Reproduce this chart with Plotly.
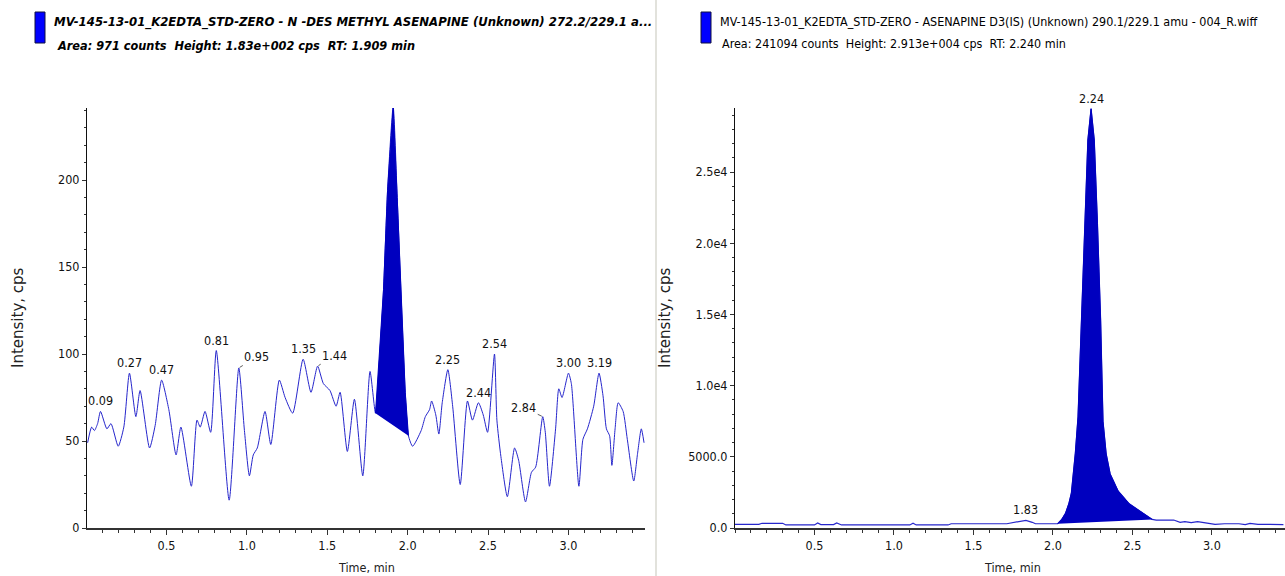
import plotly.graph_objects as go

# ---------------- data ----------------
# N-desmethyl asenapine trace (272.2/229.1), time in min, intensity in cps
left_time = [
    0.01, 0.035, 0.052, 0.072, 0.09, 0.13, 0.155, 0.20, 0.235, 0.27, 0.31, 0.336,
    0.395, 0.43, 0.47, 0.515, 0.56, 0.59, 0.655, 0.69, 0.71, 0.74, 0.775, 0.81,
    0.89, 0.95, 0.985, 1.016, 1.04, 1.065, 1.113, 1.149, 1.202, 1.238, 1.285, 1.35,
    1.399, 1.44, 1.476, 1.517, 1.555, 1.58, 1.625, 1.669, 1.721, 1.766,
    1.80, 1.83, 1.85, 1.875, 1.91, 1.935, 1.96, 1.985, 2.005,
    2.031, 2.084, 2.11, 2.136, 2.149, 2.175, 2.194, 2.215, 2.25, 2.28, 2.327, 2.372,
    2.403, 2.44, 2.47, 2.497, 2.54, 2.555, 2.58, 2.62, 2.665, 2.69, 2.733, 2.77,
    2.796, 2.84, 2.856, 2.882, 2.92, 2.94, 2.96, 3.00, 3.018, 3.065, 3.09, 3.118,
    3.157, 3.19, 3.215, 3.236, 3.256, 3.27, 3.29, 3.309, 3.34, 3.366, 3.406, 3.43,
    3.453, 3.47,
]
left_intensity = [
    49, 58, 56, 60, 67, 57, 60, 47, 58, 89, 64, 79,
    46, 59, 85, 68, 42, 58, 24, 62, 58, 67, 55, 102,
    16, 92, 56, 30, 42, 46, 67, 48, 85, 75, 66, 97,
    78, 93, 83, 79, 70, 78, 44, 74, 30, 90,
    66, 105, 137, 194, 242, 190, 132, 78, 53,
    47, 56, 64, 68, 73, 65, 54, 72, 91, 70, 25, 73,
    62, 72, 65, 55, 100, 62, 41, 18, 46, 39, 15, 32,
    35, 64, 55, 24, 57, 80, 75, 89, 83, 24, 51, 57,
    70, 89, 76, 57, 53, 36, 57, 72, 67, 51, 27, 43,
    57, 49,
]
left_peak_window = (1.80, 2.005)
left_labels = ["0.09", "0.27", "0.47", "0.81", "0.95", "1.35", "1.44", "1.91",
               "2.25", "2.44", "2.54", "2.84", "3.00", "3.19"]

# Asenapine D3 internal standard trace (290.1/229.1)
right_time = [
    0.0, 0.15, 0.17, 0.30, 0.32, 0.50, 0.52, 0.54, 0.62, 0.64, 0.67, 1.10,
    1.12, 1.14, 1.34, 1.36, 1.71, 1.76, 1.83, 1.87, 1.89,
    2.03, 2.055, 2.079, 2.10, 2.116, 2.141, 2.158, 2.18, 2.20, 2.22, 2.24, 2.26,
    2.28, 2.30, 2.315, 2.335, 2.36, 2.41, 2.48, 2.57, 2.625,
    2.65, 2.76, 2.80, 2.83, 2.87, 2.91, 2.95, 3.00, 3.02, 3.08, 3.17, 3.21,
    3.24, 3.29, 3.45,
]
right_intensity = [
    260, 260, 330, 330, 215, 215, 350, 240, 240, 350, 215, 215,
    330, 215, 215, 300, 300, 380, 540, 400, 300,
    300, 600, 1030, 1700, 2440, 5250, 7800, 14600, 21400, 27250, 29450, 27250,
    21400, 14600, 7500, 5200, 3800, 2600, 1700, 1000, 600,
    560, 560, 400, 450, 380, 450, 380, 260, 260, 300, 300, 240,
    330, 260, 240,
]
right_peak_window = (2.03, 2.625)
right_labels = ["1.83", "2.24"]

left_yticks = [0, 50, 100, 150, 200]
left_yticktext = ["0", "50", "100", "150", "200"]
right_yticks = [0, 5000, 10000, 15000, 20000, 25000]
right_yticktext = ["0.0", "5000.0", "1.0e4", "1.5e4", "2.0e4", "2.5e4"]
time_ticks = [0.5, 1.0, 1.5, 2.0, 2.5, 3.0]
time_ticktext = ["0.5", "1.0", "1.5", "2.0", "2.5", "3.0"]

left_title = ("<b><i>MV-145-13-01_K2EDTA_STD-ZERO - N -DES METHYL ASENAPINE (Unknown) "
              "272.2/229.1 a...</i></b>")
left_subtitle = "<b><i>Area: 971 counts  Height: 1.83e+002 cps  RT: 1.909 min</i></b>"
right_title = ("MV-145-13-01_K2EDTA_STD-ZERO - ASENAPINE D3(IS) (Unknown) 290.1/229.1 amu"
               " - 004_R.wiff")
right_subtitle = "Area: 241094 counts  Height: 2.913e+004 cps  RT: 2.240 min"

# ---------------- styling ----------------
W, H = 1285, 576
NARROW = "Liberation Sans Narrow, DejaVu Sans Condensed, Arial Narrow, sans-serif"
WIDE = "DejaVu Sans, Verdana, sans-serif"
LINE_BLUE = "#2626cc"
FILL_BLUE = "#0000bf"


def px_x(p):
    return p / W


def px_y(p):
    return 1 - p / H


def window(times, values, lo, hi):
    xs = [t for t in times if lo <= t <= hi]
    ys = [v for t, v in zip(times, values) if lo <= t <= hi]
    return xs, ys


fig = go.Figure()

# left panel: noisy trace plus integrated peak
lx, ly = window(left_time, left_intensity, *left_peak_window)
fig.add_trace(go.Scatter(x=left_time, y=left_intensity, mode="lines",
                         line=dict(color=LINE_BLUE, width=1, shape="spline", smoothing=0.6),
                         xaxis="x", yaxis="y", hoverinfo="skip"))
fig.add_trace(go.Scatter(x=lx, y=ly, mode="lines", fill="toself", fillcolor=FILL_BLUE,
                         line=dict(color=FILL_BLUE, width=1),
                         xaxis="x", yaxis="y", hoverinfo="skip"))

# right panel: internal standard trace plus integrated peak
rx, ry = window(right_time, right_intensity, *right_peak_window)
fig.add_trace(go.Scatter(x=right_time, y=right_intensity, mode="lines",
                         line=dict(color=LINE_BLUE, width=1.2),
                         xaxis="x2", yaxis="y2", hoverinfo="skip"))
fig.add_trace(go.Scatter(x=rx, y=ry, mode="lines", fill="toself", fillcolor=FILL_BLUE,
                         line=dict(color=FILL_BLUE, width=1),
                         xaxis="x2", yaxis="y2", hoverinfo="skip"))

annotations = []
label_font = dict(family=NARROW, size=12.5, color="#111")

# peak retention-time labels
leaders = {"0.95": (18, -11), "1.44": (17, -11), "2.84": (-19, -9)}
for lab in left_labels:
    i = left_time.index(float(lab))
    x, y = left_time[i], left_intensity[i]
    if lab in leaders:
        ax, ay = leaders[lab]
        annotations.append(dict(x=x, y=y, xref="x", yref="y", text=lab, showarrow=True,
                                arrowhead=0, arrowwidth=0.8, arrowcolor="#333",
                                ax=ax, ay=ay, standoff=1, font=label_font))
    else:
        annotations.append(dict(x=x, y=y, xref="x", yref="y", text=lab, showarrow=False,
                                xanchor="center", yanchor="bottom", yshift=1,
                                font=label_font))
for lab in right_labels:
    i = right_time.index(float(lab))
    annotations.append(dict(x=right_time[i], y=right_intensity[i], xref="x2", yref="y2",
                            text=lab, showarrow=False, xanchor="center", yanchor="bottom",
                            yshift=1, font=label_font))


def paper_text(cx, cy, text, font, xanchor="left", angle=0):
    return dict(x=px_x(cx), y=px_y(cy), xref="paper", yref="paper", text=text,
                showarrow=False, xanchor=xanchor, yanchor="middle", textangle=angle,
                font=font)


# header lines
annotations += [
    paper_text(52, 22, left_title, dict(family=NARROW, size=13, color="#000")),
    paper_text(55, 45, left_subtitle, dict(family=NARROW, size=12.6, color="#000")),
    paper_text(718, 21, right_title, dict(family=NARROW, size=12.45, color="#000")),
    paper_text(720, 44, right_subtitle, dict(family=NARROW, size=12.45, color="#000")),
]

# axis titles
for cx in (18, 665):
    annotations.append(paper_text(cx, 318, "Intensity, cps",
                                  dict(family=WIDE, size=15, color="#222"),
                                  xanchor="center", angle=-90))
for cx in (366, 1012):
    annotations.append(paper_text(cx, 567, "Time, min",
                                  dict(family=NARROW, size=12.5, color="#222"),
                                  xanchor="center"))

shapes = [
    dict(type="rect", xref="paper", yref="paper", x0=px_x(35), x1=px_x(45),
         y0=px_y(43), y1=px_y(12), fillcolor="#0000ff", line=dict(color="#101040", width=1)),
    dict(type="rect", xref="paper", yref="paper", x0=px_x(701), x1=px_x(711),
         y0=px_y(43), y1=px_y(12), fillcolor="#0000ff", line=dict(color="#101040", width=1)),
    dict(type="line", xref="paper", yref="paper", x0=px_x(656), x1=px_x(656),
         y0=0, y1=1, line=dict(color="#e2e2dc", width=2)),
]

tick_font = dict(family=NARROW, size=12.5, color="#111")


def x_axis(domain, rng, anchor):
    return dict(domain=domain, range=rng, anchor=anchor, showline=True, linecolor="#333",
                linewidth=2, ticks="outside", ticklen=5, tickcolor="#333", tickwidth=1,
                tickvals=time_ticks, ticktext=time_ticktext, tickfont=tick_font,
                minor=dict(ticks="outside", ticklen=3, dtick=0.1, tick0=0,
                           tickcolor="#333"),
                showgrid=False, zeroline=False, fixedrange=True, automargin=False)


def y_axis(rng, anchor, vals, text, minor_step):
    return dict(domain=[px_y(528), px_y(108)], range=rng, anchor=anchor, showline=True,
                linecolor="#111", linewidth=1, ticks="outside", ticklen=4,
                tickcolor="#333", tickvals=vals, ticktext=text, tickfont=tick_font,
                minor=dict(ticks="outside", ticklen=2, dtick=minor_step, tick0=0,
                           tickcolor="#333"),
                showgrid=False, zeroline=False, fixedrange=True, automargin=False)


fig.update_layout(
    width=W, height=H, margin=dict(l=0, r=0, t=0, b=0, autoexpand=False),
    paper_bgcolor="white", plot_bgcolor="white", showlegend=False,
    xaxis=x_axis([px_x(87), px_x(645)], [0.006, 3.476], "y"),
    yaxis=y_axis([0, 241.4], "x", left_yticks, left_yticktext, 10),
    xaxis2=x_axis([px_x(735), 1.0], [0.0, 3.46], "y2"),
    yaxis2=y_axis([0, 29500], "x2", right_yticks, right_yticktext, 1000),
    annotations=annotations, shapes=shapes,
)

fig.write_html("out.html")
